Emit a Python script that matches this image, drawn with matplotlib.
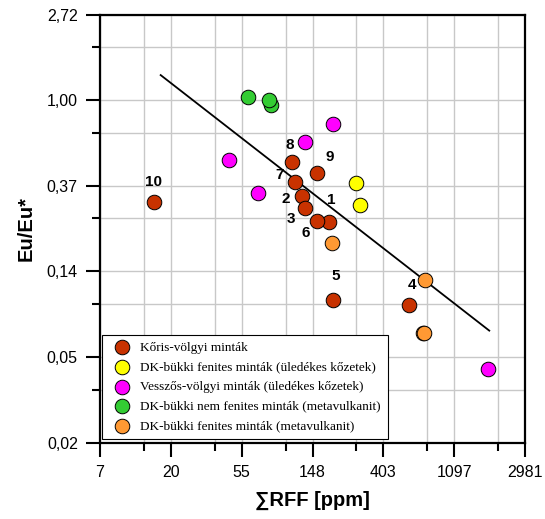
import matplotlib
matplotlib.use("Agg")
import matplotlib.pyplot as plt
import numpy as np

plt.rcParams['font.family'] = ['Liberation Sans', 'DejaVu Sans']

# ---- data ----
koris_x = [187.4, 128.5, 134.0, 580.0, 199.0, 157.5, 116.0, 110.6, 157.5, 15.8]
koris_y = [0.240, 0.328, 0.284, 0.091, 0.097, 0.245, 0.384, 0.487, 0.426, 0.303]
koris_labels = ["1", "2", "3", "4", "5", "6", "7", "8", "9", "10"]

dk_fen_sed_x = [274.0, 290.0]
dk_fen_sed_y = [0.379, 0.294]

vesszos_x = [199.0, 134.0, 45.6, 69.1, 1761.0]
vesszos_y = [0.754, 0.611, 0.497, 0.339, 0.0433]

dk_nem_x = [60.0, 82.6, 80.6]
dk_nem_y = [1.04, 0.945, 1.00]

dk_fen_meta_x = [194.6, 727.0, 703.0, 719.0]
dk_fen_meta_y = [0.189, 0.123, 0.0657, 0.0661]

trend_x = [17.4, 1800.0]
trend_y = [1.34, 0.0678]

x_ticklabels = ["7", "20", "55", "148", "403", "1097", "2981"]
y_ticklabels = ["0,02", "0,05", "0,14", "0,37", "1,00", "2,72"]

# label offsets (pixels) for the numbered points
label_offsets = [(2, 22), (-17, -3), (-14, -11), (3, 20), (2, 24),
                 (-11, -12), (-15, 7), (-2, 17), (13, 16), (0, 20)]

fig = plt.figure(figsize=(5.45, 5.19), dpi=100)
ax = fig.add_axes([0.1835, 0.147, 0.7798, 0.825])

ax.set_xscale('log')
ax.set_yscale('log')
ax.set_xlim(np.exp(2), np.exp(8))
ax.set_ylim(np.exp(-4), np.exp(1))

ax.plot(trend_x, trend_y, color='black', linewidth=1.3, zorder=3)

mk = dict(s=110, edgecolors='black', linewidths=0.7, zorder=4)
ax.scatter(koris_x, koris_y, c='#C83200', label='Kőris-völgyi minták', **mk)
ax.scatter(dk_fen_sed_x, dk_fen_sed_y, c='#FFFF00',
           label='DK-bükki fenites minták (üledékes kőzetek)', **mk)
ax.scatter(vesszos_x, vesszos_y, c='#FF00FF',
           label='Vesszős-völgyi minták (üledékes kőzetek)', **mk)
ax.scatter(dk_nem_x, dk_nem_y, c='#33CC33',
           label='DK-bükki nem fenites minták (metavulkanit)', **mk)
ax.scatter(dk_fen_meta_x, dk_fen_meta_y, c='#FF9933',
           label='DK-bükki fenites minták (metavulkanit)', **mk)

for x, y, t, off in zip(koris_x, koris_y, koris_labels, label_offsets):
    ax.annotate(t, (x, y), xytext=off, textcoords='offset pixels',
                ha='center', va='center', fontsize=11, fontweight='bold', zorder=5)

# ticks: major at e^n, minor at e^(n+0.62)
xmaj = np.exp(np.arange(2, 9))
ymaj = np.exp(np.arange(-4, 2))
ax.set_xticks(xmaj)
ax.set_xticklabels(x_ticklabels)
ax.set_yticks(ymaj)
ax.set_yticklabels(y_ticklabels)
ax.set_xticks(np.exp(np.arange(2, 8) + 0.62), minor=True)
ax.set_yticks(np.exp(np.arange(-4, 1) + 0.62), minor=True)
ax.xaxis.set_minor_formatter(plt.NullFormatter())
ax.yaxis.set_minor_formatter(plt.NullFormatter())

ax.tick_params(which='major', direction='out', length=10, width=1.5,
               labelsize=11.5, pad=6)
ax.tick_params(which='minor', direction='out', length=5.5, width=1.5)
ax.grid(True, which='both', color='#c8c8c8', linewidth=1, zorder=0)
ax.set_axisbelow(True)
for sp in ax.spines.values():
    sp.set_linewidth(1.6)

ax.set_xlabel("∑RFF [ppm]", fontsize=14.5, fontweight='bold', labelpad=8)
ax.set_ylabel("Eu/Eu*", fontsize=14.5, fontweight='bold', labelpad=8)

leg = ax.legend(loc='lower left', bbox_to_anchor=(0.005, 0.009), borderaxespad=0,
                prop={'family': 'Liberation Serif', 'size': 9.5},
                fancybox=False, framealpha=1, edgecolor='black',
                handletextpad=0.4, labelspacing=0.56, borderpad=0.5,
                markerscale=1.0)
leg.get_frame().set_linewidth(0.8)
leg.set_zorder(6)

fig.savefig("out.png", dpi=100)
